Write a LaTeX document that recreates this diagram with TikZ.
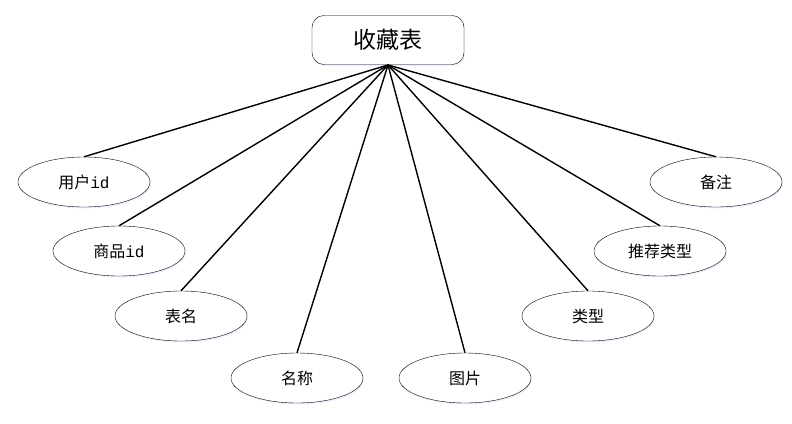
\documentclass[tikz,border=0pt]{standalone}
\usepackage{fontspec}
\setmainfont{Liberation Serif}
\setmonofont{Liberation Mono}
\newfontfamily\cjk{Noto Sans CJK SC}[BoldFont={Noto Sans CJK SC}]
\usetikzlibrary{shapes.geometric,shadows}

\begin{document}
\begin{tikzpicture}[x=1pt,y=-1pt,
    attr/.style={ellipse, draw, thin, fill=white, minimum width=132pt, minimum height=50pt,
        inner sep=0pt, font=\cjk\fontsize{16}{16}\selectfont,
        drop shadow={fill=blue!8, shadow xshift=1pt, shadow yshift=-1.5pt, opacity=0.8}},
    entity/.style={rectangle, rounded corners=12pt, draw, thin, fill=white,
        minimum width=152pt, minimum height=49pt, inner sep=0pt,
        font=\cjk\fontsize{23}{23}\selectfont,
        drop shadow={fill=blue!8, shadow xshift=1pt, shadow yshift=-1.5pt, opacity=0.8}},
    link/.style={line width=1.4pt}]
    % Page frame
    \useasboundingbox (0,0) rectangle (792,423);
    
    % Entity
    \node[entity] (fav) at (388,40) {收藏表};
    \coordinate (hub) at (388,65);
    
    % Attributes
    \node[attr] (uid)   at (84,182)  {用户{\ttfamily id}};
    \node[attr] (gid)   at (119,251) {商品{\ttfamily id}};
    \node[attr] (tname) at (181,316) {表名};
    \node[attr] (name)  at (297,378) {名称};
    \node[attr] (pic)   at (465,378) {图片};
    \node[attr] (type)  at (588,316) {类型};
    \node[attr] (rtype) at (660,251) {推荐类型};
    \node[attr] (note)  at (716,182) {备注};
    
    % Connectors
    \foreach \a in {uid,gid,tname,name,pic,type,rtype,note} {
        \draw[link] (hub) -- (\a.north);
    }
\end{tikzpicture}
\end{document}
